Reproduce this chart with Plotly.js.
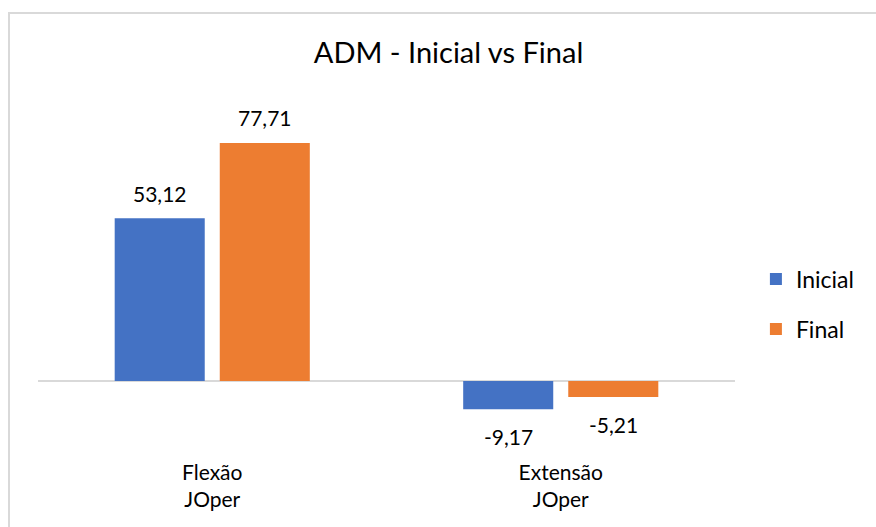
<!DOCTYPE html>
<html>
<head>
<meta charset="utf-8">
<script src="https://cdn.plot.ly/plotly-3.0.1.min.js"></script>
<style>
html, body { margin: 0; padding: 0; overflow: hidden; background: #ffffff; }
#frame { position: absolute; left: 8px; top: 12px; width: 2000px; height: 2000px; border: 2px solid #d9d9d9; box-sizing: border-box; }
#chart { position: absolute; left: 0; top: 0; width: 876px; height: 527px; }
</style>
</head>
<body>
<div id="frame"></div>
<div id="chart"></div>
<script>
const categories = ["Flexão<br>JOper", "Extensão<br>JOper"];
const inicialValues = [53.12, -9.17];
const finalValues = [77.71, -5.21];
const seriesNames = ["Inicial", "Final"];
const seriesColors = ["#4472c4", "#ed7d31"];

const fmt = v => v.toFixed(2).replace('.', ',');
const font = "Lato, Open Sans, sans-serif";

const traces = [inicialValues, finalValues].map((vals, i) => ({
  type: 'bar',
  name: seriesNames[i],
  x: categories,
  y: vals,
  marker: { color: seriesColors[i] },
  legendgroup: 'g' + i,
  hoverinfo: 'none'
}));

const annotations = [];
[inicialValues, finalValues].forEach((vals, i) => {
  vals.forEach((v, j) => {
    annotations.push({
      x: categories[j], y: v, xref: 'x', yref: 'y',
      text: fmt(v), showarrow: false,
      xshift: (i === 0 ? -52.5 : 52.5),
      yshift: v >= 0 ? 25 : -27,
      font: { family: font, size: 21, color: '#000000' }
    });
  });
});

const layout = {
  width: 876, height: 527,
  paper_bgcolor: 'rgba(0,0,0,0)', plot_bgcolor: 'rgba(0,0,0,0)',
  margin: { l: 38, r: 141, t: 100, b: 69 },
  separators: ',.',
  title: { text: 'ADM - Inicial vs Final', x: 0.512, xanchor: 'center', y: 0.9, yanchor: 'middle',
           font: { family: font, size: 29, color: '#000000' } },
  barmode: 'group', bargap: 0.397, bargroupgap: 0.143,
  xaxis: { showgrid: false, showline: false, zeroline: false, ticks: '',
           tickfont: { family: font, size: 21, color: '#000000' }, ticklabelstandoff: 0 },
  yaxis: { range: [-25.1, 91.7], showgrid: false, showticklabels: false, showline: false,
           zeroline: true, zerolinecolor: '#d9d9d9', zerolinewidth: 2, ticks: '' },
  showlegend: true,
  legend: { x: 1.030, xanchor: 'left', y: 0.43, yanchor: 'middle', tracegroupgap: 17,
            font: { family: font, size: 23, color: '#000000' }, itemwidth: 30 },
  annotations: annotations
};

Plotly.newPlot('chart', traces, layout, { staticPlot: true, displayModeBar: false });
</script>
</body>
</html>
